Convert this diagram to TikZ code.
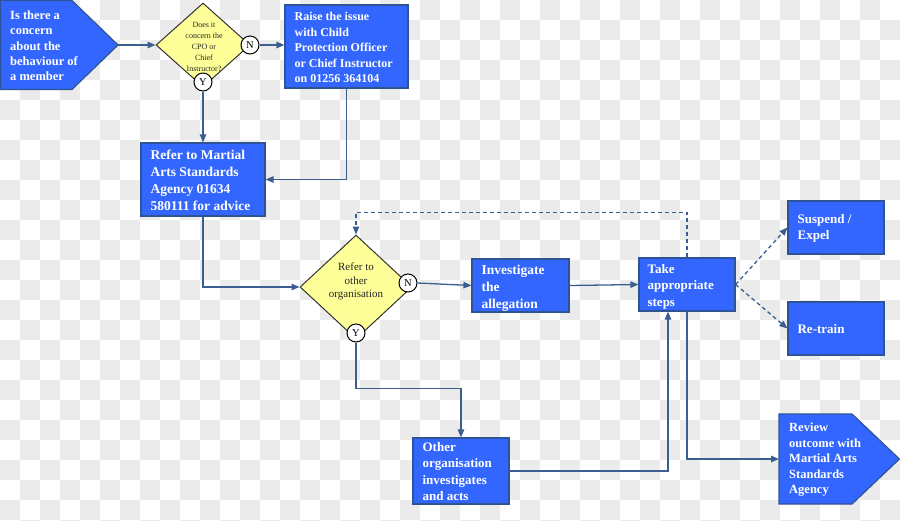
\documentclass[tikz,border=0pt]{standalone}
\usepackage{fontspec}
\setmainfont{Liberation Serif}
\usetikzlibrary{arrows.meta,shapes.geometric}
\definecolor{boxf}{RGB}{51,102,255}
\definecolor{boxb}{RGB}{46,84,150}
\definecolor{connc}{RGB}{59,94,145}
\definecolor{dfill}{RGB}{255,255,153}
\definecolor{bgc}{RGB}{235,235,235}
\tikzset{
  conn/.style={draw=connc, line width=1.3pt, -{Triangle[length=8pt,width=6.5pt]}},
  dconn/.style={conn, dash pattern=on 4pt off 3pt},
  box/.style={draw=boxb, fill=boxf, line width=1.2pt, rectangle, inner sep=0pt},
  dia/.style={draw=black!80, fill=dfill, line width=1pt, diamond, inner sep=0pt},
  yn/.style={draw=black, fill=white, line width=1pt, circle, minimum size=18pt, inner sep=0pt, font=\fontsize{10.5}{11}\selectfont},
  btxt/.style={text=white, align=left, inner sep=0pt, anchor=west},
  dtxt/.style={text=black!85, align=center, inner sep=0pt},
}
\begin{document}
\begin{tikzpicture}[x=1pt,y=-1pt]
\useasboundingbox (0,0) rectangle (900,520);
% checkerboard background
\begin{scope}
\clip (0,0) rectangle (900,520);
\foreach \i in {0,40,...,880}{
  \foreach \j in {0,40,...,520}{
    \fill[bgc] (\i+20,\j) rectangle ++(20,20);
    \fill[bgc] (\i,\j+20) rectangle ++(20,20);
  }
}
\end{scope}

% start pentagon
\draw[draw=boxb, fill=boxf, line width=1.2pt] (0.6,0.6) -- (72,0.6) -- (118,45) -- (72,89.4) -- (0.6,89.4) -- cycle;
\coordinate (starttip) at (118,45);
\node[btxt, font=\bfseries\fontsize{12.5}{15.3}\selectfont] (startT) at (10,46)
  {Is there a\\concern\\about the\\behaviour of\\a member};

% diamond 1
\node[dia, minimum width=94pt, minimum height=84pt] (d1) at (203,45) {};
\node[dtxt, font=\fontsize{8}{11}\selectfont] (d1T) at (204,47)
  {Does it\\concern the\\CPO or\\Chief\\Instructor?};
\node[yn] (d1N) at (250,45) {N};
\node[yn] (d1Y) at (203,82) {Y};

% raise box
\node[box, minimum width=123pt, minimum height=83pt] (raise) at (346.5,46.5) {};
\node[btxt, font=\bfseries\fontsize{12}{15.5}\selectfont] (raiseT) at ([xshift=10pt,yshift=-1pt]raise.west)
  {Raise the issue\\with Child\\Protection Officer\\or Chief Instructor\\on 01256 364104};

% refer box
\node[box, minimum width=124pt, minimum height=73pt] (refer) at (203,179.5) {};
\node[btxt, font=\bfseries\fontsize{13.5}{17}\selectfont] (referT) at ([xshift=10pt,yshift=-1pt]refer.west)
  {Refer to Martial\\Arts Standards\\Agency 01634\\580111 for advice};

% diamond 2
\node[dia, minimum width=112pt, minimum height=104pt] (d2) at (356,287) {};
\node[dtxt, font=\fontsize{11}{13.5}\selectfont] (d2T) at (356,281.5)
  {Refer to\\other\\organisation};
\node[yn] (d2N) at (408,283) {N};
\node[yn] (d2Y) at (356,333) {Y};

% investigate
\node[box, minimum width=97pt, minimum height=53pt] (inv) at (520.5,285.5) {};
\node[btxt, font=\bfseries\fontsize{13.5}{17}\selectfont] (invT) at ([xshift=10pt,yshift=-2.5pt]inv.west)
  {Investigate\\the\\allegation};

% take
\node[box, minimum width=96pt, minimum height=53pt] (take) at (687,284.5) {};
\node[btxt, font=\bfseries\fontsize{13}{16.5}\selectfont] (takeT) at ([xshift=9pt,yshift=-2pt]take.west)
  {Take\\appropriate\\steps};

% suspend
\node[box, minimum width=96pt, minimum height=53pt] (susp) at (836,227.5) {};
\node[btxt, font=\bfseries\fontsize{13}{16}\selectfont] (suspT) at ([xshift=10pt,yshift=-1pt]susp.west)
  {Suspend /\\Expel};

% retrain
\node[box, minimum width=96pt, minimum height=53pt] (retr) at (836,328.5) {};
\node[btxt, font=\bfseries\fontsize{13}{16}\selectfont] (retrT) at ([xshift=10pt,yshift=-1pt]retr.west)
  {Re-train};

% other
\node[box, minimum width=96pt, minimum height=66pt] (other) at (461,471) {};
\node[btxt, font=\bfseries\fontsize{13}{16.3}\selectfont] (otherT) at ([xshift=10pt,yshift=-0.5pt]other.west)
  {Other\\organisation\\investigates\\and acts};

% review pentagon
\draw[draw=boxb, fill=boxf, line width=1.2pt] (779,414) -- (852,414) -- (899.4,459) -- (852,504) -- (779,504) -- cycle;
\coordinate (revW) at (779,459);
\node[btxt, font=\bfseries\fontsize{12.5}{15.5}\selectfont] (revT) at (789,460)
  {Review\\outcome with\\Martial Arts\\Standards\\Agency};

% connectors
\draw[conn] (starttip) -- (d1.west);
\draw[conn] (d1N.east) -- (d1N.east -| raise.west);
\draw[conn] (d1Y.south) -- (refer.north);
\draw[conn] (raise.south) |- (refer.east);
\draw[conn] (refer.south) |- (d2.west);
\draw[conn] (d2N.east) -- (inv.west);
\draw[conn] (inv.east) -- (take.west);
\draw[dconn] (take.north) -- ++(0,-45) -| (d2.north);
\draw[dconn] (take.east) -- (susp.west);
\draw[dconn] (take.east) -- (retr.west);
\draw[conn] (d2Y.south) -- ++(0,46) -| (other.north);
\draw[conn] (other.east) -| ([xshift=-19pt]take.south);
\draw[conn] (take.south) |- (revW);
\end{tikzpicture}
\end{document}
